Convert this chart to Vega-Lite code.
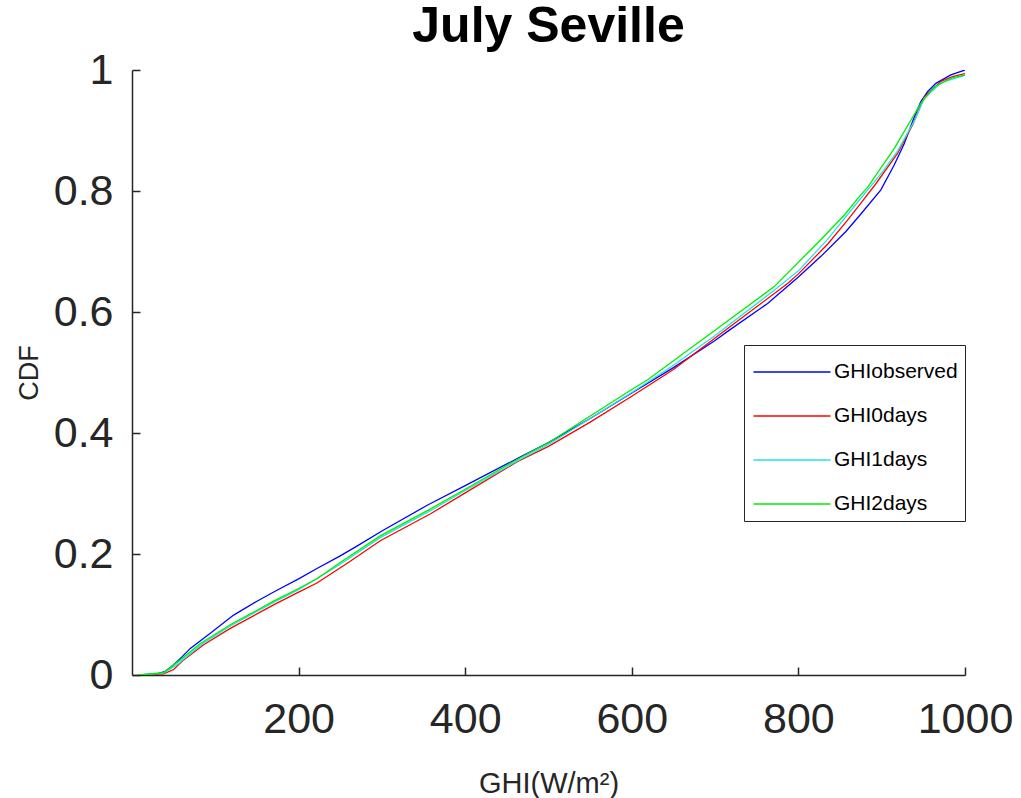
{
  "$schema": "https://vega.github.io/schema/vega-lite/v6.json",
  "width": 833,
  "height": 605,
  "autosize": "none",
  "padding": {"left": 132, "top": 70, "right": 56, "bottom": 123},
  "background": "white",
  "config": {
    "font": "Liberation Sans",
    "view": {"stroke": null},
    "axis": {"grid": false}
  },
  "title": {
    "text": "July Seville",
    "fontSize": 50,
    "fontWeight": "bold",
    "font": "Liberation Sans",
    "color": "#000000",
    "anchor": "middle",
    "baseline": "alphabetic",
    "offset": -43
  },
  "data": {
    "values": [
      {"s":"GHIobserved","x":8,"y":0},{"s":"GHIobserved","x":30,"y":0.002},{"s":"GHIobserved","x":40,"y":0.006},{"s":"GHIobserved","x":50,"y":0.017},{"s":"GHIobserved","x":60,"y":0.030},{"s":"GHIobserved","x":70,"y":0.044},{"s":"GHIobserved","x":94,"y":0.069},{"s":"GHIobserved","x":122,"y":0.099},{"s":"GHIobserved","x":150,"y":0.122},{"s":"GHIobserved","x":174,"y":0.140},{"s":"GHIobserved","x":200,"y":0.159},{"s":"GHIobserved","x":222,"y":0.176},{"s":"GHIobserved","x":250,"y":0.197},{"s":"GHIobserved","x":270,"y":0.213},{"s":"GHIobserved","x":300,"y":0.238},{"s":"GHIobserved","x":355,"y":0.281},{"s":"GHIobserved","x":400,"y":0.313},{"s":"GHIobserved","x":467,"y":0.361},{"s":"GHIobserved","x":500,"y":0.384},{"s":"GHIobserved","x":550,"y":0.424},{"s":"GHIobserved","x":600,"y":0.466},{"s":"GHIobserved","x":650,"y":0.508},{"s":"GHIobserved","x":700,"y":0.553},{"s":"GHIobserved","x":715,"y":0.568},{"s":"GHIobserved","x":763,"y":0.614},{"s":"GHIobserved","x":800,"y":0.658},{"s":"GHIobserved","x":827,"y":0.692},{"s":"GHIobserved","x":857,"y":0.733},{"s":"GHIobserved","x":875,"y":0.762},{"s":"GHIobserved","x":899,"y":0.802},{"s":"GHIobserved","x":915,"y":0.843},{"s":"GHIobserved","x":927,"y":0.878},{"s":"GHIobserved","x":939,"y":0.922},{"s":"GHIobserved","x":947,"y":0.948},{"s":"GHIobserved","x":955,"y":0.964},{"s":"GHIobserved","x":965,"y":0.978},{"s":"GHIobserved","x":983,"y":0.992},{"s":"GHIobserved","x":1000,"y":1.0},
      {"s":"GHI0days","x":8,"y":0},{"s":"GHI0days","x":38,"y":0.002},{"s":"GHI0days","x":50,"y":0.009},{"s":"GHI0days","x":62,"y":0.025},{"s":"GHI0days","x":86,"y":0.050},{"s":"GHI0days","x":118,"y":0.077},{"s":"GHI0days","x":170,"y":0.116},{"s":"GHI0days","x":200,"y":0.137},{"s":"GHI0days","x":222,"y":0.152},{"s":"GHI0days","x":262,"y":0.188},{"s":"GHI0days","x":298,"y":0.222},{"s":"GHI0days","x":359,"y":0.267},{"s":"GHI0days","x":400,"y":0.301},{"s":"GHI0days","x":463,"y":0.353},{"s":"GHI0days","x":500,"y":0.378},{"s":"GHI0days","x":550,"y":0.418},{"s":"GHI0days","x":599,"y":0.460},{"s":"GHI0days","x":650,"y":0.505},{"s":"GHI0days","x":723,"y":0.581},{"s":"GHI0days","x":787,"y":0.647},{"s":"GHI0days","x":800,"y":0.663},{"s":"GHI0days","x":835,"y":0.712},{"s":"GHI0days","x":859,"y":0.752},{"s":"GHI0days","x":875,"y":0.780},{"s":"GHI0days","x":893,"y":0.812},{"s":"GHI0days","x":919,"y":0.862},{"s":"GHI0days","x":937,"y":0.909},{"s":"GHI0days","x":951,"y":0.955},{"s":"GHI0days","x":971,"y":0.981},{"s":"GHI0days","x":985,"y":0.989},{"s":"GHI0days","x":1000,"y":0.994},
      {"s":"GHI1days","x":8,"y":0},{"s":"GHI1days","x":38,"y":0.003},{"s":"GHI1days","x":55,"y":0.018},{"s":"GHI1days","x":60,"y":0.024},{"s":"GHI1days","x":84,"y":0.051},{"s":"GHI1days","x":118,"y":0.081},{"s":"GHI1days","x":170,"y":0.120},{"s":"GHI1days","x":200,"y":0.141},{"s":"GHI1days","x":250,"y":0.183},{"s":"GHI1days","x":298,"y":0.227},{"s":"GHI1days","x":359,"y":0.272},{"s":"GHI1days","x":400,"y":0.305},{"s":"GHI1days","x":467,"y":0.357},{"s":"GHI1days","x":500,"y":0.381},{"s":"GHI1days","x":550,"y":0.424},{"s":"GHI1days","x":600,"y":0.467},{"s":"GHI1days","x":650,"y":0.512},{"s":"GHI1days","x":700,"y":0.561},{"s":"GHI1days","x":771,"y":0.636},{"s":"GHI1days","x":800,"y":0.668},{"s":"GHI1days","x":835,"y":0.720},{"s":"GHI1days","x":875,"y":0.788},{"s":"GHI1days","x":900,"y":0.830},{"s":"GHI1days","x":919,"y":0.866},{"s":"GHI1days","x":940,"y":0.918},{"s":"GHI1days","x":951,"y":0.953},{"s":"GHI1days","x":971,"y":0.979},{"s":"GHI1days","x":1000,"y":0.991},
      {"s":"GHI2days","x":8,"y":0},{"s":"GHI2days","x":38,"y":0.004},{"s":"GHI2days","x":58,"y":0.025},{"s":"GHI2days","x":82,"y":0.052},{"s":"GHI2days","x":118,"y":0.083},{"s":"GHI2days","x":170,"y":0.122},{"s":"GHI2days","x":200,"y":0.143},{"s":"GHI2days","x":222,"y":0.159},{"s":"GHI2days","x":250,"y":0.186},{"s":"GHI2days","x":298,"y":0.230},{"s":"GHI2days","x":359,"y":0.275},{"s":"GHI2days","x":400,"y":0.307},{"s":"GHI2days","x":467,"y":0.360},{"s":"GHI2days","x":500,"y":0.384},{"s":"GHI2days","x":550,"y":0.428},{"s":"GHI2days","x":600,"y":0.472},{"s":"GHI2days","x":619,"y":0.488},{"s":"GHI2days","x":695,"y":0.565},{"s":"GHI2days","x":771,"y":0.642},{"s":"GHI2days","x":823,"y":0.714},{"s":"GHI2days","x":855,"y":0.760},{"s":"GHI2days","x":875,"y":0.794},{"s":"GHI2days","x":883,"y":0.806},{"s":"GHI2days","x":915,"y":0.870},{"s":"GHI2days","x":947,"y":0.945},{"s":"GHI2days","x":963,"y":0.972},{"s":"GHI2days","x":983,"y":0.986},{"s":"GHI2days","x":1000,"y":0.992}
    ]
  },
  "mark": {"type": "line", "strokeWidth": 1.3, "clip": true},
  "encoding": {
    "x": {
      "field": "x",
      "type": "quantitative",
      "scale": {"domain": [0, 1000], "nice": false, "zero": false},
      "axis": {
        "title": "GHI(W/m²)",
        "values": [200, 400, 600, 800, 1000],
        "format": "d",
        "labelFontSize": 43,
        "labelColor": "#262626",
        "labelFont": "Liberation Sans",
        "labelPadding": 31,
        "labelBaseline": "top",
        "labelFlush": false,
        "labelOverlap": false,
        "tickSize": -8,
        "tickColor": "#262626",
        "tickWidth": 1.5,
        "domainColor": "#262626",
        "domainWidth": 1.5,
        "titleFontSize": 29,
        "titleFontWeight": "normal",
        "titleColor": "#262626",
        "titleBaseline": "alphabetic",
        "titleY": 117
      }
    },
    "y": {
      "field": "y",
      "type": "quantitative",
      "scale": {"domain": [0, 1], "nice": false},
      "axis": {
        "title": "CDF",
        "values": [0, 0.2, 0.4, 0.6, 0.8, 1],
        "format": "~g",
        "labelFontSize": 43,
        "labelColor": "#262626",
        "labelFont": "Liberation Sans",
        "labelPadding": 27,
        "labelFlush": false,
        "labelOverlap": false,
        "tickSize": -8,
        "tickColor": "#262626",
        "tickWidth": 1.5,
        "domainColor": "#262626",
        "domainWidth": 1.5,
        "titleFontSize": 27,
        "titleFontWeight": "normal",
        "titleColor": "#262626",
        "titleBaseline": "alphabetic",
        "titleX": -95
      }
    },
    "color": {
      "field": "s",
      "type": "nominal",
      "sort": ["GHIobserved", "GHI0days", "GHI1days", "GHI2days"],
      "scale": {
        "domain": ["GHIobserved", "GHI0days", "GHI1days", "GHI2days"],
        "range": ["#0000ff", "#ff0000", "#22e4e4", "#00ee00"]
      },
      "legend": {
        "title": null,
        "orient": "none",
        "legendX": 612,
        "legendY": 275,
        "symbolType": "M-2,0H2",
        "symbolSize": 1482,
        "symbolStrokeWidth": 1.3,
        "symbolOffset": 21,
        "labelOffset": 22,
        "labelFontSize": 21,
        "labelFont": "Liberation Sans",
        "labelColor": "#000000",
        "rowPadding": 14,
        "padding": 7,
        "strokeColor": "#262626",
        "fillColor": "white",
        "labelLimit": 300
      }
    },
    "order": {"field": "x", "type": "quantitative"}
  }
}
